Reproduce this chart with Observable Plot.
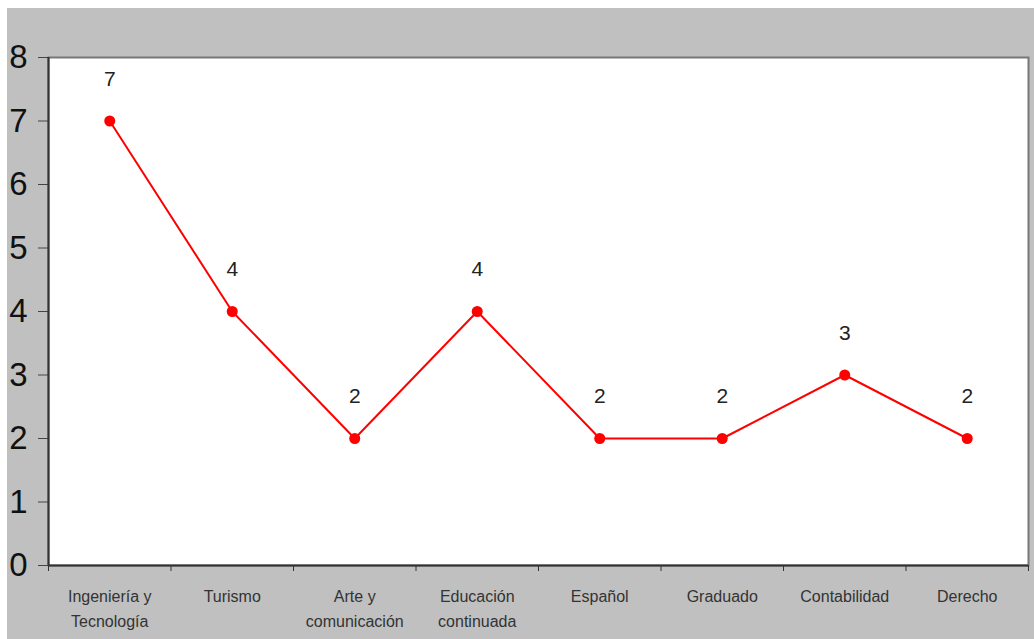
<!DOCTYPE html>
<html><head><meta charset="utf-8">
<script src="https://cdn.jsdelivr.net/npm/d3@7"></script>
<script src="https://cdn.jsdelivr.net/npm/@observablehq/plot@0.6"></script>
<style>
html,body{margin:0;padding:0;background:#fff;}
#wrap{position:absolute;left:7px;top:8px;width:1027px;height:631px;background:#c0c0c0;}
#wrap svg{display:block;}
</style></head><body>
<div id="wrap"></div>
<script>
const categories = ["Ingeniería y\nTecnología","Turismo","Arte y\ncomunicación","Educación\ncontinuada","Español","Graduado","Contabilidad","Derecho"];
const values = [7,4,2,4,2,2,3,2];
const yTicks = [0,1,2,3,4,5,6,7,8];

const data = categories.map((c,i)=>({i: i+0.5, cat: c, v: values[i]}));
const font = "'Liberation Sans Narrow','Liberation Sans',Arial,sans-serif";

const chart = Plot.plot({
  width: 1027, height: 631,
  marginLeft: 41, marginTop: 49, marginRight: 6, marginBottom: 74,
  style: {background: "#c0c0c0", fontFamily: font, color: "#222"},
  x: {type: "linear", domain: [0, categories.length]},
  y: {domain: [0, 8]},
  marks: [
    Plot.rect([0], {x1: 0, x2: categories.length, y1: 0, y2: 8, fill: "white"}),
    Plot.frame({stroke: "#777", strokeWidth: 2}),
    Plot.axisY({ticks: yTicks, tickSize: 10, tickPadding: 11, fontSize: 33, stroke: "#444", fill: "#111", label: null}),
    Plot.axisX({ticks: d3.range(categories.length + 1), tickSize: 6, tickFormat: () => "", stroke: "#333", label: null}),
    Plot.axisX({ticks: data.map(d => d.i), tickSize: 0, tickPadding: 19, tickFormat: t => categories[Math.floor(t)], fontSize: 16, lineHeight: 1.55, fill: "#333", label: null}),
    Plot.ruleY([0], {stroke: "#333", strokeWidth: 2}),
    Plot.ruleX([0], {stroke: "#333", strokeWidth: 2}),
    Plot.line(data, {x: "i", y: "v", stroke: "#ff0000", strokeWidth: 2}),
    Plot.dot(data, {x: "i", y: "v", fill: "#ff0000", r: 5.5}),
    Plot.text(data, {x: "i", y: "v", text: d => String(d.v), dy: -42, fontSize: 21, fill: "#222"})
  ]
});
document.getElementById("wrap").appendChild(chart);
</script>
</body></html>
